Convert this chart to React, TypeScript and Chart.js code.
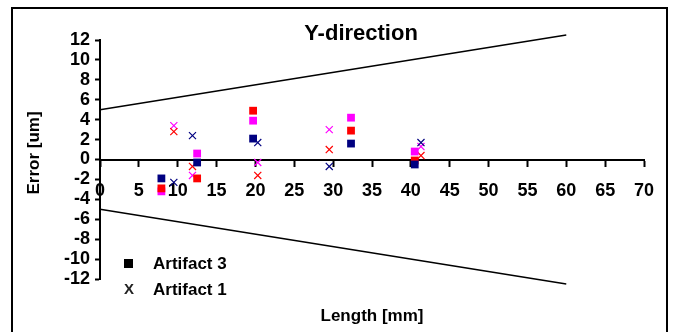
import React, { useEffect, useRef } from "react";
import { Chart, registerables } from "chart.js";

Chart.register(...registerables);

const xTickValues = [0, 5, 10, 15, 20, 25, 30, 35, 40, 45, 50, 55, 60, 65, 70];
const yTickValues = [-12, -10, -8, -6, -4, -2, 0, 2, 4, 6, 8, 10, 12];

const art3Length = [7.9, 12.5, 19.7, 32.3, 40.5];
const art3Navy = [-1.9, -0.3, 2.1, 1.6, -0.5];
const art3Red = [-2.9, -1.9, 4.9, 2.9, -0.1];
const art3Magenta = [-3.2, 0.6, 3.9, 4.2, 0.8];

const art1Length = [9.5, 11.9, 20.3, 29.5, 41.3];
const art1Navy = [-2.3, 2.4, 1.7, -0.7, 1.7];
const art1Red = [2.8, -0.7, -1.6, 1.0, 0.4];
const art1Magenta = [3.4, -1.6, -0.3, 3.0, 1.3];

const limitLength = [0, 60];
const upperLimit = [5, 12.5];
const lowerLimit = [-5, -12.5];

const legendLabels = ["Artifact 3", "Artifact 1"];
const titleText = "Y-direction";
const xTitle = "Length [mm]";
const yTitle = "Error [um]";

const FONT = "'Liberation Sans', Arial, sans-serif";

const pts = (xs: number[], ys: number[]) => xs.map((x, i) => ({ x, y: ys[i] }));

const squareSet = (data: number[], color: string) => ({
  data: pts(art3Length, data),
  pointStyle: "rect" as const,
  pointRadius: 5.5,
  backgroundColor: color,
  borderColor: color,
  borderWidth: 0,
  showLine: false,
});

const crossSet = (data: number[], color: string) => ({
  data: pts(art1Length, data),
  pointStyle: "crossRot" as const,
  pointRadius: 5,
  backgroundColor: color,
  borderColor: color,
  borderWidth: 1.2,
  showLine: false,
});

const lineSet = (data: number[]) => ({
  data: pts(limitLength, data),
  showLine: true,
  pointRadius: 0,
  borderColor: "#000",
  borderWidth: 1.5,
  clip: false as any,
});

const decorPlugin = {
  id: "decor",
  afterDraw(chart: any) {
    const ctx = chart.ctx;
    ctx.save();
    ctx.strokeStyle = "#000";
    ctx.lineWidth = 2;
    ctx.strokeRect(12, 8, 655, 340);
    ctx.fillStyle = "#000";
    ctx.textAlign = "center";
    ctx.textBaseline = "middle";
    ctx.font = `bold 22px ${FONT}`;
    ctx.fillText(titleText, 361, 34);
    ctx.font = `bold 17px ${FONT}`;
    ctx.fillText(xTitle, 372, 316);
    ctx.save();
    ctx.translate(34, 153);
    ctx.rotate(-Math.PI / 2);
    ctx.fillText(yTitle, 0, 0);
    ctx.restore();
    // legend
    ctx.font = `bold 17px ${FONT}`;
    ctx.textAlign = "left";
    ctx.fillRect(124, 259, 9, 9);
    ctx.fillText(legendLabels[0], 153, 264);
    ctx.font = `bold 15px ${FONT}`;
    ctx.fillStyle = "#222";
    ctx.textAlign = "center";
    ctx.fillText("X", 129, 290);
    ctx.fillStyle = "#000";
    ctx.textAlign = "left";
    ctx.font = `bold 17px ${FONT}`;
    ctx.fillText(legendLabels[1], 153, 290);
    ctx.restore();
  },
};

export default function App() {
  const ref = useRef<HTMLCanvasElement>(null);
  useEffect(() => {
    if (!ref.current) return;
    const chart = new Chart(ref.current, {
      type: "scatter",
      data: {
        datasets: [
          lineSet(upperLimit),
          lineSet(lowerLimit),
          squareSet(art3Navy, "#000080"),
          squareSet(art3Red, "#FF0000"),
          squareSet(art3Magenta, "#FF00FF"),
          crossSet(art1Navy, "#000080"),
          crossSet(art1Red, "#FF0000"),
          crossSet(art1Magenta, "#FF00FF"),
        ] as any,
      },
      options: {
        responsive: false,
        animation: false,
        devicePixelRatio: 1,
        layout: { padding: { left: 0, top: 40, right: 31, bottom: 53 } },
        plugins: {
          legend: { display: false },
          title: { display: false },
          tooltip: { enabled: false },
        },
        scales: {
          x: {
            type: "linear",
            min: 0,
            max: 70,
            position: { y: 0 } as any,
            afterBuildTicks: (s: any) => {
              s.ticks = xTickValues.map((v) => ({ value: v }));
            },
            ticks: {
              autoSkip: false,
              maxRotation: 0,
              color: "#000",
              padding: 15,
              font: { family: FONT, size: 18, weight: "bold" },
            },
            grid: {
              drawOnChartArea: false,
              drawTicks: true,
              tickLength: 6,
              tickWidth: 2,
              tickColor: "#000",
            },
            border: { display: true, color: "#000", width: 2 },
          },
          y: {
            type: "linear",
            min: -12,
            max: 12,
            afterBuildTicks: (s: any) => {
              s.ticks = yTickValues.map((v) => ({ value: v }));
            },
            afterFit: (s: any) => {
              s.width = 100;
            },
            ticks: {
              autoSkip: false,
              color: "#000",
              padding: 5,
              font: { family: FONT, size: 18, weight: "bold" },
            },
            grid: {
              drawOnChartArea: false,
              drawTicks: true,
              tickLength: 5,
              tickWidth: 2,
              tickColor: "#000",
            },
            border: { display: true, color: "#000", width: 2 },
          },
        },
      },
      plugins: [decorPlugin],
    });
    return () => chart.destroy();
  }, []);
  return (
    <div style={{ position: "fixed", left: 0, top: 0, width: 675, height: 332, background: "#fff" }}>
      <canvas ref={ref} width={675} height={332} style={{ width: 675, height: 332 }} />
    </div>
  );
}
